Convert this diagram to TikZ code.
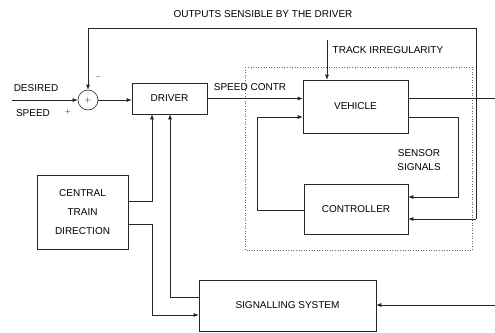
\documentclass[tikz,border=0pt]{standalone}
\usepackage{fontspec}
\setmainfont{Liberation Sans}
\usetikzlibrary{arrows.meta,calc}

\begin{document}
\begin{tikzpicture}[x=1pt,y=-1pt,>=Latex,
  blk/.style={draw=black!85,line width=0.6pt,minimum width=#1,align=center,font=\fontsize{10}{11}\selectfont,inner sep=2pt},
  lbl/.style={font=\fontsize{10}{11}\selectfont,inner sep=1pt},
  arr/.style={-{Latex[length=5pt,width=4pt]},line width=0.6pt,draw=black!85},
  wire/.style={line width=0.6pt,draw=black!85}]
\useasboundingbox (0,0) rectangle (495,332);
% blocks
\node[draw=black!85,line width=0.6pt,circle,minimum size=20pt,inner sep=0pt,font=\footnotesize] (sum) at (88,100) {$+$};
\node[blk=75pt,minimum height=31pt] (driver) at (169.5,98.5) {DRIVER};
\node[blk=105pt,minimum height=53pt] (vehicle) at (355.5,106.5) {VEHICLE};
\node[blk=104pt,minimum height=50pt] (controller) at (356,209) {CONTROLLER};
\node[blk=91pt,minimum height=74pt,text width=85pt] (central) at (82.5,212) {CENTRAL\\[8pt]TRAIN\\[8pt]DIRECTION};
\node[blk=177pt,minimum height=51pt] (signalling) at (287.5,305.5) {SIGNALLING SYSTEM};
\draw[black!60,dotted,line width=0.6pt] (245,67) rectangle (472,250);
% labels
\node[lbl] (title) at (263,14) {OUTPUTS SENSIBLE BY THE DRIVER};
\node[lbl] (desired) at (36,88) {DESIRED};
\node[lbl] (speed) at (33,113) {SPEED};
\node[lbl] (contr) at (250,87) {SPEED CONTR};
\node[lbl] (track) at (388,50) {TRACK IRREGULARITY};
\node[lbl] (sensor) at (419,153) {SENSOR};
\node[lbl] (signals) at (419,167) {SIGNALS};
\node[font=\scriptsize,inner sep=0pt] (minus) at (98,77) {$-$};
\node[font=\scriptsize,inner sep=0pt] (plus) at (68,112) {$+$};
% free ends
\coordinate (din) at (12,100);
\coordinate (trk) at (327,40);
\coordinate (vout) at (495,98);
\coordinate (fb) at (476,28);
\coordinate (sin) at (495,305);
% connectors
\draw[arr] (din) -- (sum.west);
\draw[arr] (sum.east) -- (driver.west |- sum.east);
\draw[arr] (driver.east) -- (driver.east -| vehicle.west);
\draw[arr] (trk) -- (trk |- vehicle.north);
\draw[wire] (vout -| vehicle.east) -- (vout);
\draw[arr] ($(vehicle.east)+(0,10.5)$) -| (458,197) -- (controller.east |- 0,197);
\draw[arr] (controller.west |- 0,210) -| (257,117) -- (vehicle.west |- 0,117);
\draw[arr] (fb |- 0,219) -- (controller.east |- 0,219);
\draw[wire] (fb |- 0,219) -- (fb);
\draw[arr] (fb) -| (sum.north);
\draw[arr] (central.east |- 0,201) -| (152,201) -- (driver.south -| 152,0);
\draw[arr] (central.east |- 0,224) -| (152,315) -- (signalling.west |- 0,315);
\draw[arr] (signalling.west |- 0,297) -| (170,297) -- (driver.south -| 170,0);
\draw[arr] (sin) -- (signalling.east |- sin);
\end{tikzpicture}
\end{document}
